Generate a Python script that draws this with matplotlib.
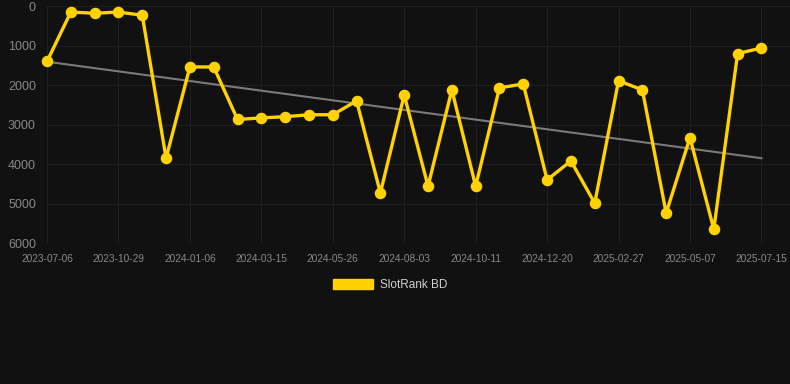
import numpy as np
import matplotlib.pyplot as plt
from matplotlib.patches import Patch

# rank values (lower is better, axis inverted)
ranks = [1400, 150, 180, 150, 230, 3850, 1540, 1540, 2870, 2830, 2800,
         2750, 2750, 2400, 4730, 2250, 4560, 2120, 4560, 2070, 1970,
         4400, 3920, 4990, 1890, 2120, 5240, 3330, 5650, 1200, 1060]

# every third point carries a date label
tick_labels = ['2023-07-06', '2023-10-29', '2024-01-06', '2024-03-15',
               '2024-05-26', '2024-08-03', '2024-10-11', '2024-12-20',
               '2025-02-27', '2025-05-07', '2025-07-15']
y_ticks = [0, 1000, 2000, 3000, 4000, 5000, 6000]

series_name = 'SlotRank BD'

bg = '#111111'
yellow = '#ffd200'
font = ['Liberation Sans', 'DejaVu Sans']
plt.rcParams['font.family'] = font

x = np.arange(len(ranks))

fig = plt.figure(figsize=(7.9, 3.84), dpi=100, facecolor=bg)
ax = fig.add_axes([0.0595, 0.367, 0.9405, 0.617])
ax.set_facecolor(bg)

# linear trend
k, b = np.polyfit(x, ranks, 1)
ax.plot(x, k * x + b, color='#7a7a7a', lw=1.5, zorder=2)

ax.plot(x, ranks, color=yellow, lw=2.4, marker='o', markersize=7.3,
        zorder=3, clip_on=False)

ax.set_xlim(0, 31.2)
ax.set_ylim(6000, 0)
ax.set_yticks(y_ticks)
ax.set_xticks(x[::3])
ax.set_xticklabels(tick_labels)

ax.grid(True, color='#1f1f1f', lw=0.8)
for s in ax.spines.values():
    s.set_visible(False)
ax.tick_params(axis='both', length=0, colors='#888888')
ax.tick_params(axis='y', labelsize=9, pad=8)
ax.tick_params(axis='x', labelsize=7.3, pad=8)

handle = Patch(facecolor=yellow, edgecolor=yellow)
fig.legend([handle], [series_name], loc='center', bbox_to_anchor=(0.494, 0.258),
           frameon=False, fontsize=8.5, labelcolor='#d0d0d0',
           handlelength=3.4, handleheight=1.0, handletextpad=0.6)

fig.savefig('out.png', dpi=100, facecolor=bg)
